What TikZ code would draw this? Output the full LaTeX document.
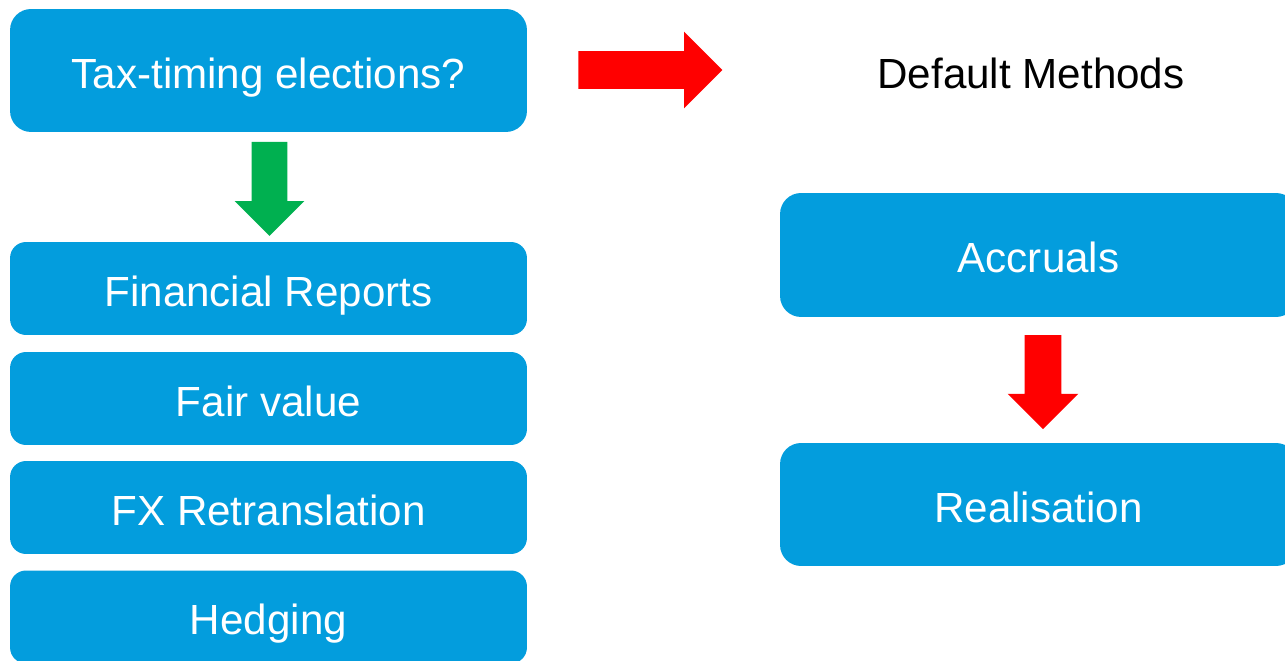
\documentclass[tikz,border=0pt]{standalone}
\usepackage{fontspec}
\setmainfont{Liberation Sans}
\definecolor{Boxcol}{HTML}{039DDD}
\definecolor{Redcol}{HTML}{FF0000}
\definecolor{Greencol}{HTML}{00B050}
\usetikzlibrary{shapes.arrows, positioning}
\tikzset{
    font=\fontsize{24}{28}\selectfont,
    tbox/.style={fill=Boxcol, text=white, rounded corners=0.32cm,
        minimum width=10.34cm, minimum height=1.86cm, inner sep=0pt,
        text height=20pt, text depth=0pt},
    % #1 = shaft half width
    blockarrow/.style={single arrow, inner xsep=0pt, inner ysep=#1, draw=none}
}

\begin{document}
\begin{tikzpicture}[x=0.02cm, y=-0.02cm]
    % Frame
    \useasboundingbox (0,0) rectangle (1285,661);
    \clip (0,0) rectangle (1285,661);

    % Left column
    \node[tbox, minimum height=2.46cm, rounded corners=0.42cm] (elect) at (268.5,70.5) {Tax-timing elections?};
    \node[tbox] (finrep) at (268.5,288.5) {Financial Reports};
    \node[tbox] (fairval) at (268.5,398.5) {Fair value};
    \node[tbox] (fxret) at (268.5,507.5) {FX Retranslation};
    \node[tbox] (hedge) at (268.5,617) {Hedging};

    % Right column
    \node[text height=19pt, text depth=0pt] (defmeth) at (1031,72) {Default Methods};
    \node[tbox, minimum height=2.48cm, rounded corners=0.42cm] (accr) at (1038.5,255) {Accruals};
    \node[tbox, minimum height=2.46cm, rounded corners=0.42cm] (realis) at (1038.5,504.5) {Realisation};

    % Block arrows
    \node[blockarrow=0.35cm, fill=Greencol, minimum height=1.88cm,
        single arrow head extend=0.34cm, rotate=-90] (yesarr) at (269.5,180) {};
    \node[blockarrow=0.37cm, fill=Redcol, minimum height=2.88cm,
        single arrow head extend=0.39cm] (noarr) at (641,70) {};
    \node[blockarrow=0.36cm, fill=Redcol, minimum height=1.88cm,
        single arrow head extend=0.34cm, rotate=-90] (thenarr) at (1043,373) {};
\end{tikzpicture}
\end{document}
